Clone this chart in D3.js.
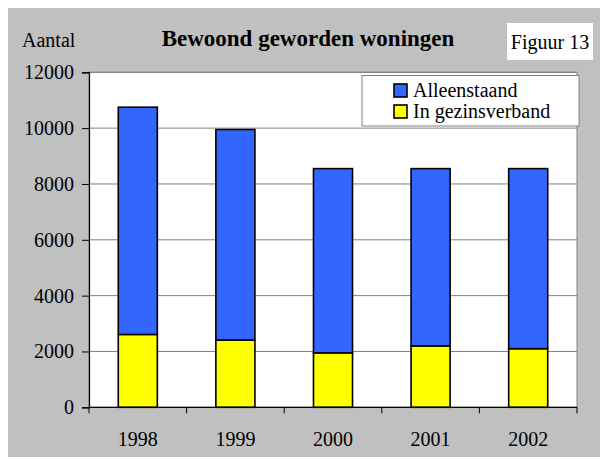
<!DOCTYPE html>
<html>
<head>
<meta charset="utf-8">
<script src="https://cdn.jsdelivr.net/npm/d3@7"></script>
<style>
  body { margin: 0; background: #fff; }
</style>
</head>
<body>
<div id="chart"></div>
<script>
var years = ["1998", "1999", "2000", "2001", "2002"];
var gezin = [2610, 2410, 1950, 2200, 2100];
var alleen = [8140, 7540, 6600, 6350, 6450];
var seriesNames = ["Alleenstaand", "In gezinsverband"];
var seriesColors = ["#3366ff", "#ffff00"];
var yTicks = [0, 2000, 4000, 6000, 8000, 10000, 12000];

var width = 603, height = 459,
    plotL = 89, plotR = 577, plotT = 72.3, plotB = 407.3,
    serif = "'Liberation Serif', 'Times New Roman', 'DejaVu Serif', serif";

var svg = d3.select("#chart").append("svg")
  .attr("width", width).attr("height", height);

// grey chart area
svg.append("rect")
  .attr("x", 8).attr("y", 8)
  .attr("width", 592).attr("height", 449)
  .attr("fill", "#c0c0c0");

// plot area
svg.append("rect")
  .attr("x", plotL).attr("y", plotT)
  .attr("width", plotR - plotL).attr("height", plotB - plotT)
  .attr("fill", "#fff")
  .attr("stroke", "#808080").attr("stroke-width", 1);

var x = d3.scaleBand().domain(years).range([plotL, plotR]).paddingInner(0.6).paddingOuter(0.3);
var y = d3.scaleLinear().domain([0, 12000]).range([plotB, plotT]);

// gridlines
svg.append("g").selectAll("line")
  .data(yTicks.slice(1))
  .enter().append("line")
  .attr("x1", plotL).attr("x2", plotR)
  .attr("y1", function(d){ return y(d); })
  .attr("y2", function(d){ return y(d); })
  .attr("stroke", "#808080").attr("stroke-width", 1);

// stacked bars
var table = years.map(function(d, i){
  return {year: d, gezin: gezin[i], alleen: alleen[i]};
});
var stack = d3.stack().keys(["gezin", "alleen"])(table);
var colorOf = {gezin: seriesColors[1], alleen: seriesColors[0]};

svg.append("g").selectAll("g")
  .data(stack)
  .enter().append("g")
  .attr("fill", function(d){ return colorOf[d.key]; })
  .selectAll("rect")
  .data(function(d){ return d; })
  .enter().append("rect")
  .attr("x", function(d){ return x(d.data.year); })
  .attr("width", x.bandwidth())
  .attr("y", function(d){ return y(d[1]); })
  .attr("height", function(d){ return y(d[0]) - y(d[1]); })
  .attr("stroke", "#000").attr("stroke-width", 1.6);

// y axis
var yAxis = svg.append("g")
  .attr("transform", "translate(" + plotL + ",0)")
  .call(d3.axisLeft(y).tickValues(yTicks).tickSize(7).tickPadding(8).tickFormat(d3.format("d")));
yAxis.attr("font-family", null).attr("font-size", null);
yAxis.select(".domain").attr("stroke", "#000").attr("stroke-width", 1.2);
yAxis.selectAll(".tick line").attr("stroke", "#000");
yAxis.selectAll("text").style("font-family", serif).style("font-size", "20px").attr("fill", "#000");

// x axis
var x0 = d3.scalePoint().domain(d3.range(years.length + 1)).range([plotL, plotR]);
var xAxis = svg.append("g")
  .attr("transform", "translate(0," + plotB + ")");
xAxis.append("line")
  .attr("x1", plotL).attr("x2", plotR)
  .attr("stroke", "#000").attr("stroke-width", 1.2);
xAxis.selectAll(".tk")
  .data(x0.domain())
  .enter().append("line")
  .attr("x1", function(d){ return x0(d); })
  .attr("x2", function(d){ return x0(d); })
  .attr("y1", 0).attr("y2", 6)
  .attr("stroke", "#000");
xAxis.selectAll("text")
  .data(years)
  .enter().append("text")
  .attr("x", function(d){ return x(d) + x.bandwidth() / 2; })
  .attr("y", 39)
  .attr("text-anchor", "middle")
  .style("font-family", serif).style("font-size", "20px")
  .text(function(d){ return d; });

// titles
svg.append("text")
  .attr("x", 22).attr("y", 47)
  .style("font-family", serif).style("font-size", "20px")
  .text("Aantal");

svg.append("text")
  .attr("x", 308).attr("y", 46)
  .attr("text-anchor", "middle")
  .style("font-family", serif).style("font-size", "23px").style("font-weight", "bold")
  .text("Bewoond geworden woningen");

svg.append("rect")
  .attr("x", 507).attr("y", 23)
  .attr("width", 86).attr("height", 37)
  .attr("fill", "#fff");
svg.append("text")
  .attr("x", 550).attr("y", 49)
  .attr("text-anchor", "middle")
  .style("font-family", serif).style("font-size", "20px")
  .text("Figuur 13");

// legend
var legend = svg.append("g");
legend.append("rect")
  .attr("x", 362).attr("y", 75.5)
  .attr("width", 217).attr("height", 50.5)
  .attr("fill", "#fff")
  .attr("stroke", "#808080").attr("stroke-width", 1);

var item = legend.selectAll(".item")
  .data(seriesNames)
  .enter().append("g")
  .attr("transform", function(d, i){ return "translate(394," + (84 + i * 21) + ")"; });
item.append("rect")
  .attr("width", 13).attr("height", 13)
  .attr("fill", function(d, i){ return seriesColors[i]; })
  .attr("stroke", "#000").attr("stroke-width", 1.6);
item.append("text")
  .attr("x", 19).attr("y", 13)
  .style("font-family", serif).style("font-size", "20px")
  .text(function(d){ return d; });
</script>
</body>
</html>
